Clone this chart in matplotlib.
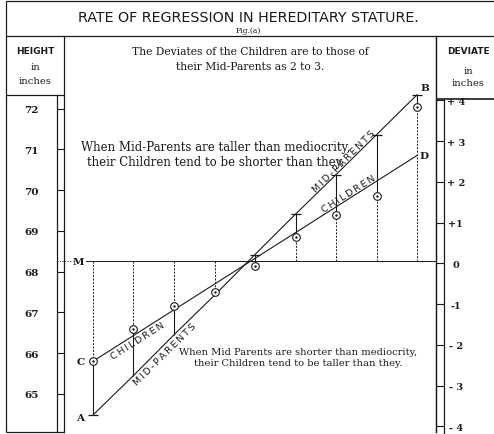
import matplotlib
matplotlib.use("Agg")
import matplotlib.pyplot as plt
import numpy as np

# Galton, Fig.(a): columns are the mid-parent classes
mid_class = [64.5, 65.5, 66.5, 67.5, 68.5, 69.5, 70.5, 71.5, 72.5]
# heights of the MID-PARENTS line (A .. B) at each column
mid_parents = [64.48, 65.45, 66.45, 67.42, 68.42, 69.41, 70.38, 71.36, 72.34]
# median height of the children of each group (circles)
children = [65.8, 66.6, 67.15, 67.5, 68.15, 68.85, 69.4, 69.85, 72.05]
# ends of the CHILDREN line (C .. D)
children_line = [65.8, 70.85]
mediocrity = 68.25
deviate_zero = 68.2
height_ticks = [65, 66, 67, 68, 69, 70, 71, 72]
deviate_ticks = [4, 3, 2, 1, 0, -1, -2, -3, -4]
deviate_labels = ["+ 4", "+ 3", "+ 2", "+1", "0", "-1", "- 2", "- 3", "- 4"]
capped = [0, 4, 5, 6, 7, 8]   # columns with a short bar on the mid-parent point

ink = "#1a1a1a"
serif = "DejaVu Serif"
sans = "DejaVu Sans"
thin = "\u2009"

W, H = 494, 435
fig = plt.figure(figsize=(W / 100, H / 100), dpi=100, facecolor="white")

# background axes in pixel units for the frame and header
bg = fig.add_axes([0, 0, 1, 1])
bg.set_xlim(0, W)
bg.set_ylim(H, 0)
bg.axis("off")

def seg(x0, y0, x1, y1, lw=0.9):
    bg.plot([x0, x1], [y0, y1], color=ink, lw=lw, solid_capstyle="butt")

seg(6, 1.5, W, 1.5)
seg(6, 36.7, W, 36.7)
seg(6, 1.5, 6, 433)
seg(6, 96, 64, 96)
seg(6, 433, 64, 433)
seg(57, 96, 57, 433)
seg(436, 100, W, 100, lw=1.2)
seg(444, 100, 444, H)

bg.text(248, 18, "RATE OF REGRESSION IN HEREDITARY STATURE.", ha="center", va="center",
        fontsize=10.3, family=sans, color=ink)
bg.text(248, 31, "Fig.(a)", ha="center", va="center", fontsize=5.5, family=serif, color=ink)
bg.text(35, 52, "HEIGHT", ha="center", va="center", fontsize=6.5, family=sans,
        weight="bold", color=ink)
bg.text(35, 68, "in", ha="center", va="center", fontsize=7.2, family=serif, color=ink)
bg.text(35, 81, "inches", ha="center", va="center", fontsize=7.2, family=serif, color=ink)
bg.text(468, 52, "DEVIATE", ha="center", va="center", fontsize=6.5, family=sans,
        weight="bold", color=ink)
bg.text(468, 71, "in", ha="center", va="center", fontsize=7.2, family=serif, color=ink)
bg.text(468, 84, "inches", ha="center", va="center", fontsize=7.2, family=serif, color=ink)
bg.text(250, 52, "The Deviates of the Children are to those of", ha="center",
        va="center", fontsize=7.75, family=serif, color=ink)
bg.text(250, 67, "their Mid-Parents as 2 to 3.", ha="center", va="center",
        fontsize=7.75, family=serif, color=ink)

# data axes: 40.5 px per column, 40.7 px per inch
ax = fig.add_axes([64 / W, (H - 433) / H, 372 / W, (433 - 36.7) / H])
ax.set_facecolor("none")
ax.set_xlim(63.784, 72.969)
ax.set_ylim(64.064, 73.79)
for s in ["top", "bottom"]:
    ax.spines[s].set_visible(False)
for s in ["left", "right"]:
    ax.spines[s].set_linewidth(0.9)
    ax.spines[s].set_color(ink)
ax.set_xticks([])
ax.set_yticks(height_ticks)
ax.set_yticklabels([str(t) for t in height_ticks])
ax.tick_params(axis="y", direction="out", length=5.0, width=0.8, color=ink, pad=18.5,
               labelsize=7.5, labelcolor=ink)
for lab in ax.get_yticklabels():
    lab.set_ha("center")
    lab.set_family(serif)
    lab.set_weight("bold")

sec = ax.secondary_yaxis("right", functions=(lambda h: h - deviate_zero,
                                              lambda d: d + deviate_zero))
sec.set_yticks(deviate_ticks)
sec.set_yticklabels(deviate_labels)
sec.tick_params(direction="out", length=5.8, width=0.8, color=ink, pad=8.5,
                labelsize=7, labelcolor=ink)
sec.spines["right"].set_linewidth(0.9)
sec.spines["right"].set_color(ink)
for lab in sec.get_yticklabels():
    lab.set_ha("center")
    lab.set_family(serif)
    lab.set_weight("bold")

# mediocrity line M
ax.axhline(mediocrity, xmin=(86 - 64) / 372, xmax=1, color=ink, lw=0.7)
ax.plot([63.61, 64.0], [mediocrity, mediocrity], color=ink, lw=0.7, ls=":", clip_on=False)

# regression lines
ax.plot(mid_class, mid_parents, color=ink, lw=0.8)
ax.plot([mid_class[0], mid_class[-1]], children_line, color=ink, lw=0.8)

# verticals: dashed from M to the children, solid from children to mid-parents
ax.vlines(mid_class, mediocrity, children, colors=ink, linestyles=(0, (2, 1.5)), lw=0.7)
ax.vlines(mid_class, children, mid_parents, colors=ink, lw=0.8)
ax.plot(np.array(mid_class)[capped], np.array(mid_parents)[capped], ls="none",
        marker="_", ms=7, mew=0.9, color=ink)
ax.plot(mid_class, children, ls="none", marker="o", ms=5.5, mfc="white", mec=ink, mew=0.8)
ax.plot(mid_class, children, ls="none", marker=".", ms=1.5, color=ink)

# letters
lfont = dict(family=serif, weight="bold", fontsize=7.5, color=ink, ha="center", va="center")
ax.text(64.15, mediocrity, "M", **lfont)
ax.text(mid_class[0] - 0.32, mid_parents[0] - 0.05, "A", **lfont)
ax.text(mid_class[-1] + 0.2, mid_parents[-1] + 0.18, "B", **lfont)
ax.text(mid_class[0] - 0.3, children_line[0], "C", **lfont)
ax.text(mid_class[-1] + 0.17, children_line[1], "D", **lfont)

# notes
ax.text(67.54, 70.89, "When Mid-Parents are taller than mediocrity,\n"
        "their Children tend to be shorter than they.", ha="center", va="center",
        fontsize=8.45, family=serif, color=ink, linespacing=1.15)
ax.text(69.56, 65.91, "When Mid Parents are shorter than mediocrity,\n"
        "their Children tend to be taller than they.", ha="center", va="center",
        fontsize=7.15, family=serif, color=ink, linespacing=1.25)

# labels along the lines
ang_mid = np.degrees(np.arctan2(mid_parents[-1] - mid_parents[0], mid_class[-1] - mid_class[0]))
ang_ch = np.degrees(np.arctan2(children_line[1] - children_line[0], mid_class[-1] - mid_class[0]))
rfont = dict(family=sans, fontsize=6.8, color=ink, ha="center", va="center",
             rotation_mode="anchor", transform_rotates_text=True)
mp_txt = thin.join("MID-PARENTS")
ch_txt = thin.join("CHILDREN")
ax.text(70.70, 70.72, mp_txt, rotation=ang_mid, **rfont)
ax.text(70.80, 69.91, ch_txt, rotation=ang_ch, **rfont)
ax.text(65.59, 66.30, ch_txt, rotation=ang_ch, **rfont)
ax.text(66.28, 65.98, mp_txt, rotation=ang_mid, **rfont)

fig.savefig("out.png", dpi=100, facecolor="white")
